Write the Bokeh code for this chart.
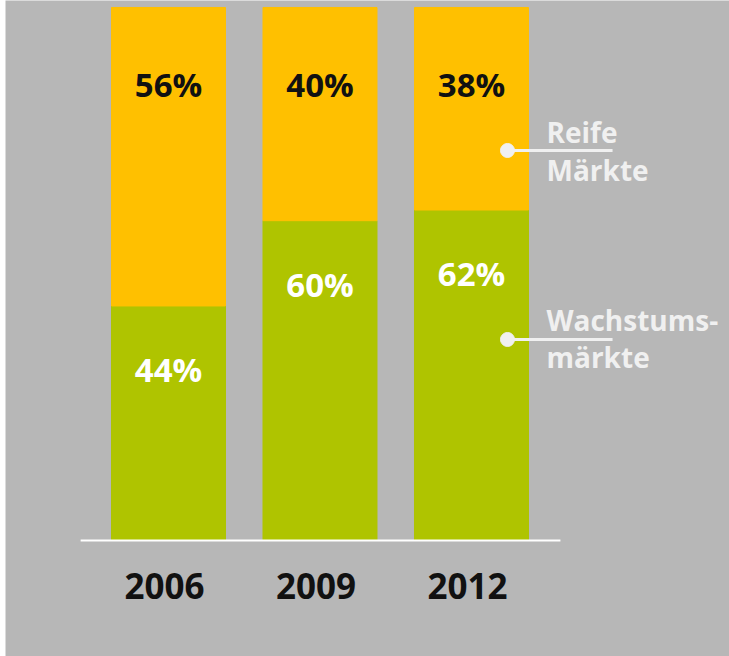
from bokeh.plotting import figure
from bokeh.models import ColumnDataSource, Range1d
from bokeh.core.properties import value
from bokeh.embed import file_html
from bokeh.resources import INLINE

years = ["2006", "2009", "2012"]
wachstum = [44, 60, 62]   # Wachstumsmärkte (%)
reife = [56, 40, 38]      # Reife Märkte (%)

BG = "#b7b7b7"
GREEN = "#afc400"
YELLOW = "#ffc000"
LIGHT = "#f0f0f0"
FONT = value("Open Sans")

idx = list(range(len(years)))
src = ColumnDataSource(dict(
    x=idx,
    year=years,
    g=wachstum,
    r=reife,
    top=[a + b for a, b in zip(wachstum, reife)],
    glab=[f"{v}%" for v in wachstum],
    rlab=[f"{v}%" for v in reife],
    gy=[v - 11.9 for v in wachstum],
    ry=[a + b - 14.47 for a, b in zip(wachstum, reife)],
    yy=[-8.5] * len(years),
))

p = figure(width=729, height=656, output_backend="svg", toolbar_location=None,
           x_range=Range1d(-1.0759, 3.703), y_range=Range1d(-21.77, 101.31),
           min_border=0, min_border_left=5, outline_line_color=None)
p.axis.visible = False
p.grid.visible = False
p.background_fill_color = BG
p.border_fill_color = "white"

bw = 114 / 151.5
p.vbar(x="x", bottom=0, top="g", width=bw, color=GREEN, source=src)
p.vbar(x="x", bottom="g", top="top", width=bw, color=YELLOW, source=src)

# baseline
p.segment(x0=[idx[0] - 0.58], x1=[idx[-1] + 0.587], y0=[0], y1=[0],
          line_color="white", line_width=2)

p.text(x="x", y="ry", text="rlab", source=src, text_align="center",
       text_baseline="alphabetic", text_font=FONT, text_font_style="bold",
       text_font_size="33px", text_color="#111111")
p.text(x="x", y="gy", text="glab", source=src, text_align="center",
       text_baseline="alphabetic", text_font=FONT, text_font_style="bold",
       text_font_size="33px", text_color="#ffffff")
p.text(x="x", y="yy", text="year", source=src, text_align="center",
       text_baseline="alphabetic", text_font=FONT, text_font_style="bold",
       text_font_size="35px", text_color="#111111", x_offset=-4)

# legend annotations
last = idx[-1]
dot_x = last + 0.2376
line_x1 = last + 0.931
txt_x = last + 0.495
for dot_y, lines, ys in [(73.17, ["Reife", "Märkte"], [76.62, 69.42]),
                         (37.71, ["Wachstums-", "märkte"], [41.28, 34.41])]:
    p.segment(x0=[dot_x], x1=[line_x1], y0=[dot_y], y1=[dot_y],
              line_color=LIGHT, line_width=3)
    p.scatter(x=[dot_x], y=[dot_y], size=14, color=LIGHT)
    p.text(x=[txt_x, txt_x], y=ys, text=lines,
           text_align="left", text_baseline="alphabetic", text_font=FONT,
           text_font_style="bold", text_font_size="28px", text_color=LIGHT)

open("out.html", "w").write(file_html(p, INLINE))
